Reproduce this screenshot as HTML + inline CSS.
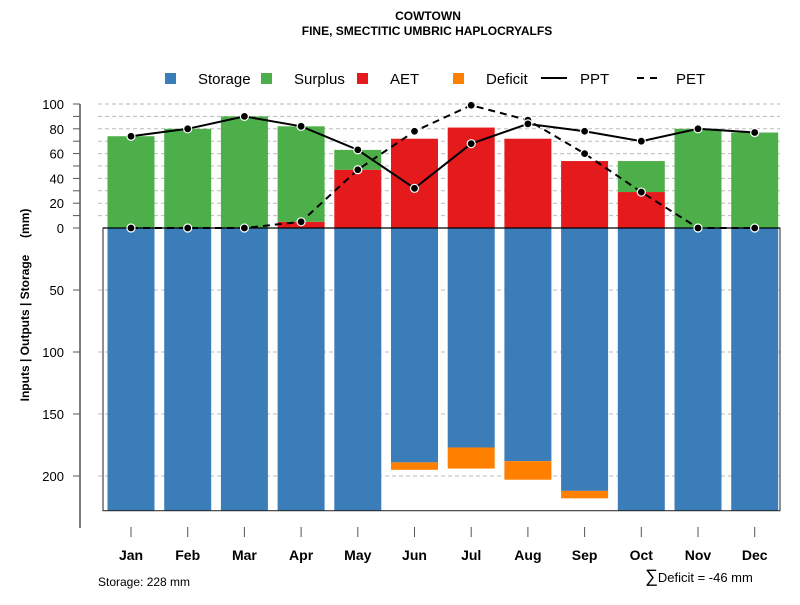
<!DOCTYPE html>
<html><head><meta charset="utf-8"><style>
body{margin:0;background:#fff;font-family:"Liberation Sans",sans-serif}
</style></head><body>
<svg id="c" width="800" height="600" xmlns="http://www.w3.org/2000/svg" font-family="Liberation Sans, sans-serif">
<text x="428" y="20" text-anchor="middle" font-size="12" font-weight="bold">COWTOWN</text>
<text x="427" y="35" text-anchor="middle" font-size="12" font-weight="bold">FINE, SMECTITIC UMBRIC HAPLOCRYALFS</text>
<g id="legend" font-size="15"></g>
<g id="grid"></g><g id="bars"></g><g id="lines"></g><g id="axes"></g>
<text transform="translate(29,305) rotate(-90)" text-anchor="middle" font-size="12" font-weight="bold" style="white-space:pre">Inputs | Outputs | Storage     (mm)</text>
<text x="98" y="586" font-size="12">Storage: 228 mm</text>
<text x="645" y="582" font-size="13"><tspan font-size="18">∑</tspan>Deficit = -46 mm</text>
</svg>
<script>
const months=["Jan","Feb","Mar","Apr","May","Jun","Jul","Aug","Sep","Oct","Nov","Dec"];
const ppt=[74,80,90,82,63,32,68,84,78,70,80,77];
const pet=[0,0,0,5,47,78,99,87,60,29,0,0];
const aet=[0,0,0,5,47,72,81,72,54,29,0,0];
const surplus=[74,80,90,77,16,0,0,0,0,25,80,77];
const storage=[228,228,228,228,228,189,177,188,212,228,228,228];
const deficit=[0,0,0,0,0,6,17,15,6,0,0,0];
const upTicks=[0,20,40,60,80,100];
const downTicks=[50,100,150,200];
const NS="http://www.w3.org/2000/svg";
const y0=228,k=1.24;
const yU=v=>y0-v*k, yD=v=>y0+v*k;
const xC=i=>131+i*56.7;
const bw=47;
function mk(p,t,a){const e=document.createElementNS(NS,t);for(const q in a)e.setAttribute(q,a[q]);document.getElementById(p).appendChild(e);return e;}
for(let v=10;v<=100;v+=10){const g=mk('grid','line',{x1:98,x2:780,y1:yU(v),y2:yU(v),stroke:'#bbb','stroke-dasharray':'4,3'});

}
downTicks.forEach(v=>{const g=mk('grid','line',{x1:98,x2:780,y1:yD(v),y2:yD(v),stroke:'#bbb','stroke-dasharray':'4,3'});

});
months.forEach((m,i)=>{
 const x=xC(i)-bw/2;
 let r=mk('bars','rect',{x:x,y:yU(0),width:bw,height:storage[i]*k,fill:'#3a7db8'});
 
 
 if(deficit[i]>0){r=mk('bars','rect',{x:x,y:yD(storage[i]),width:bw,height:deficit[i]*k,fill:'#ff7f00'});
 
 }
 if(aet[i]>0){r=mk('bars','rect',{x:x,y:yU(aet[i]),width:bw,height:aet[i]*k,fill:'#e41a1c'});
 
 }
 if(surplus[i]>0){r=mk('bars','rect',{x:x,y:yU(aet[i]+surplus[i]),width:bw,height:surplus[i]*k,fill:'#4daf4a'});
 
 }
});
let bx=mk('bars','rect',{x:103,y:y0,width:677,height:228*k,fill:'none',stroke:'#222','stroke-width':1});


let zl=mk('bars','line',{x1:103,x2:780,y1:y0,y2:y0,stroke:'#000','stroke-width':1.2});


function series(vals,dash,name){
 const l=mk('lines','polyline',{points:vals.map((v,i)=>xC(i)+','+yU(v)).join(' '),fill:'none',stroke:'#000','stroke-width':2,'stroke-dasharray':dash});
 
 
 vals.forEach((v,i)=>{const c=mk('lines','circle',{cx:xC(i),cy:yU(v),r:4,fill:'#000',stroke:'#fff','stroke-width':1.2});
 
 });
}
series(pet,'7,5','pet');series(ppt,'','ppt');
let ax=mk('axes','line',{x1:80,x2:80,y1:104,y2:528,stroke:'#555','stroke-width':1.5});


for(let v=0;v<=100;v+=10){const t=mk('axes','line',{x1:73,x2:80,y1:yU(v),y2:yU(v),stroke:'#555'});

}
upTicks.forEach(v=>{const t=mk('axes','text',{x:64,y:yU(v)+5,'text-anchor':'end','font-size':13});t.textContent=v;

});
downTicks.forEach(v=>{const t=mk('axes','line',{x1:73,x2:80,y1:yD(v),y2:yD(v),stroke:'#555'});


const l=mk('axes','text',{x:64,y:yD(v)+5,'text-anchor':'end','font-size':13});l.textContent=v;

});
months.forEach((m,i)=>{const t=mk('axes','line',{x1:xC(i),x2:xC(i),y1:527,y2:537,stroke:'#555'});


const l=mk('axes','text',{x:xC(i),y:560,'text-anchor':'middle','font-size':14,'font-weight':'bold'});l.textContent=m;

});
const leg=[["Storage","#3a7db8",198,'box'],["Surplus","#4daf4a",294,'box'],["AET","#e41a1c",390,'box'],["Deficit","#ff7f00",486,'box'],["PPT","",580,'line'],["PET","",676,'dash']];
leg.forEach(([n,c,x,tp])=>{
 if(tp==='box'){const r=mk('legend','rect',{x:x-33,y:73,width:11,height:11,fill:c});
 
 }
 else{const r=mk('legend','line',{x1:x-39,x2:x-13,y1:78,y2:78,stroke:'#000','stroke-width':2,'stroke-dasharray':tp==='dash'?'7,6':''});
 
 }
 const t=mk('legend','text',{x:x,y:84});t.textContent=n;
 
 
});
</script>
</body></html>
